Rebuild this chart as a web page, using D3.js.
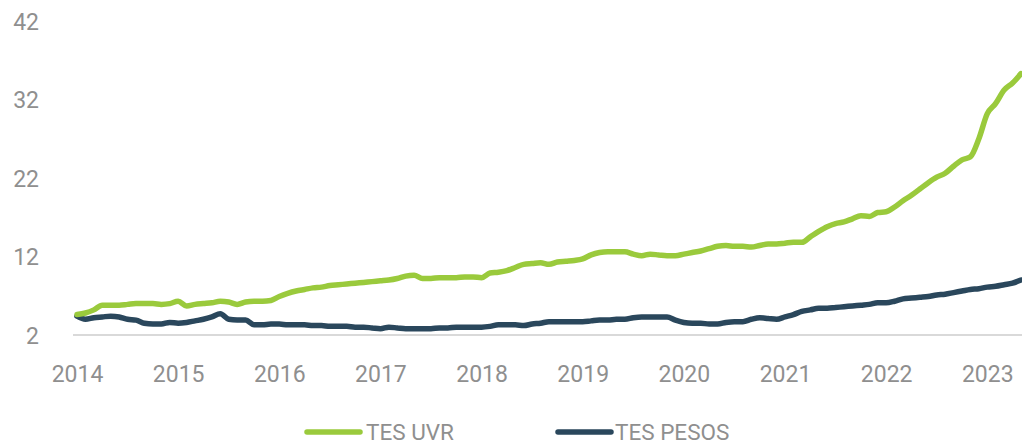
<!DOCTYPE html>
<html>
<head>
<meta charset="utf-8">
<script src="https://cdn.jsdelivr.net/npm/d3@7"></script>
<style>
  html, body { margin: 0; padding: 0; background: #ffffff; }
  svg { display: block; }
  text { font-family: Roboto, "Open Sans", sans-serif; fill: #8f8f8f; }
</style>
</head>
<body>
<svg id="chart" width="1022" height="444"></svg>
<script>
// ---- Data (monthly, Jan 2014 – May 2023) ----
const startMonth = "2014-01";
const monthCount = 113;
const yearLabels = ["2014","2015","2016","2017","2018","2019","2020","2021","2022","2023"];
const yTicks = [2, 12, 22, 32, 42];
const seriesNames = ["TES UVR", "TES PESOS"];

const tesUVR = [
  4.6, 4.8, 5.2, 5.8, 5.8, 5.8, 5.9, 6.0, 6.0, 6.0, 5.9, 6.0,
  6.3, 5.7, 5.9, 6.0, 6.1, 6.3, 6.2, 5.9, 6.2, 6.3, 6.3, 6.4,
  6.9, 7.3, 7.6, 7.8, 8.0, 8.1, 8.3, 8.4, 8.5, 8.6, 8.7, 8.8,
  8.9, 9.0, 9.2, 9.5, 9.6, 9.2, 9.2, 9.3, 9.3, 9.3, 9.4, 9.4,
  9.3, 9.9, 10.0, 10.2, 10.6, 11.0, 11.1, 11.2, 11.0, 11.3, 11.4, 11.5,
  11.7, 12.2, 12.5, 12.6, 12.6, 12.6, 12.3, 12.1, 12.3, 12.2, 12.1, 12.1,
  12.3, 12.5, 12.7, 13.0, 13.3, 13.4, 13.3, 13.3, 13.2, 13.4, 13.6, 13.6,
  13.7, 13.8, 13.8, 14.5, 15.2, 15.8, 16.2, 16.4, 16.8, 17.2, 17.1, 17.6,
  17.7, 18.3, 19.1, 19.8, 20.6, 21.4, 22.1, 22.6, 23.5, 24.3, 24.7, 27.0,
  30.2, 31.5, 33.2, 34.1, 35.3
];

const tesPesos = [
  4.4, 4.0, 4.2, 4.3, 4.4, 4.3, 4.0, 3.9, 3.5, 3.4, 3.4, 3.6,
  3.5, 3.6, 3.8, 4.0, 4.3, 4.7, 4.0, 3.9, 3.9, 3.3, 3.3, 3.4,
  3.4, 3.3, 3.3, 3.3, 3.2, 3.2, 3.1, 3.1, 3.1, 3.0, 3.0, 2.9,
  2.8, 3.0, 2.9, 2.8, 2.8, 2.8, 2.8, 2.9, 2.9, 3.0, 3.0, 3.0,
  3.0, 3.1, 3.3, 3.3, 3.3, 3.2, 3.4, 3.5, 3.7, 3.7, 3.7, 3.7,
  3.7, 3.8, 3.9, 3.9, 4.0, 4.0, 4.2, 4.3, 4.3, 4.3, 4.3, 3.9,
  3.6, 3.5, 3.5, 3.4, 3.4, 3.6, 3.7, 3.7, 4.0, 4.2, 4.1, 4.0,
  4.3, 4.6, 5.0, 5.2, 5.4, 5.4, 5.5, 5.6, 5.7, 5.8, 5.9, 6.1,
  6.1, 6.3, 6.6, 6.7, 6.8, 6.9, 7.1, 7.2, 7.4, 7.6, 7.8, 7.9,
  8.1, 8.2, 8.4, 8.6, 9.0
];

const colors = ["#9aca3c", "#2a475c"];

// ---- Chart ----
const svg = d3.select("#chart");
const W = 1022, H = 444;

const x = d3.scaleLinear().domain([0, monthCount - 1]).range([77, 1021]);
const y = d3.scaleLinear().domain([2, 42]).range([335, 21]);

// baseline
svg.append("line")
  .attr("x1", 73).attr("x2", W)
  .attr("y1", y(2)).attr("y2", y(2))
  .attr("stroke", "#d9d9d9").attr("stroke-width", 2);

// y axis labels
const yAxis = d3.axisLeft(y).tickValues(yTicks).tickSize(0).tickPadding(0).tickFormat(d3.format("d"));
const gy = svg.append("g").attr("transform", "translate(39,0)").call(yAxis);
gy.select(".domain").remove();
gy.selectAll("text")
  .attr("font-size", 23).attr("fill", "#8f8f8f")
  .style("font-family", "Roboto, sans-serif")
  .attr("dy", "0.36em");

// x axis labels (one per January)
const xAxis = d3.axisBottom(x)
  .tickValues(yearLabels.map((_, i) => i * 12))
  .tickSize(0).tickPadding(0)
  .tickFormat((d, i) => yearLabels[i]);
const gx = svg.append("g").attr("transform", "translate(0,382)").call(xAxis);
gx.select(".domain").remove();
gx.selectAll("text")
  .attr("font-size", 23).attr("fill", "#8f8f8f")
  .style("font-family", "Roboto, sans-serif")
  .attr("y", 0).attr("dy", 0);

// lines
const line = d3.line()
  .x((d, i) => x(i))
  .y(d => y(d))
  .curve(d3.curveMonotoneX);

svg.append("defs").append("clipPath").attr("id", "clip")
  .append("rect").attr("x", 0).attr("y", 0).attr("width", W).attr("height", H);

const g = svg.append("g").attr("clip-path", "url(#clip)");
[[tesPesos, colors[1]], [tesUVR, colors[0]]].forEach(([s, c]) => {
  g.append("path")
    .datum(s)
    .attr("d", line)
    .attr("fill", "none")
    .attr("stroke", c)
    .attr("stroke-width", 5.5)
    .attr("stroke-linejoin", "round")
    .attr("stroke-linecap", "round");
});

// legend
const legendItems = [
  { name: seriesNames[0], color: colors[0], x1: 307, x2: 360, tx: 366 },
  { name: seriesNames[1], color: colors[1], x1: 558, x2: 611, tx: 615 }
];
const lg = svg.append("g");
legendItems.forEach(it => {
  lg.append("line")
    .attr("x1", it.x1).attr("x2", it.x2)
    .attr("y1", 432).attr("y2", 432)
    .attr("stroke", it.color).attr("stroke-width", 5.5)
    .attr("stroke-linecap", "round");
  lg.append("text")
    .attr("x", it.tx).attr("y", 439.5)
    .attr("font-size", 22.5)
    .text(it.name);
});
</script>
</body>
</html>
